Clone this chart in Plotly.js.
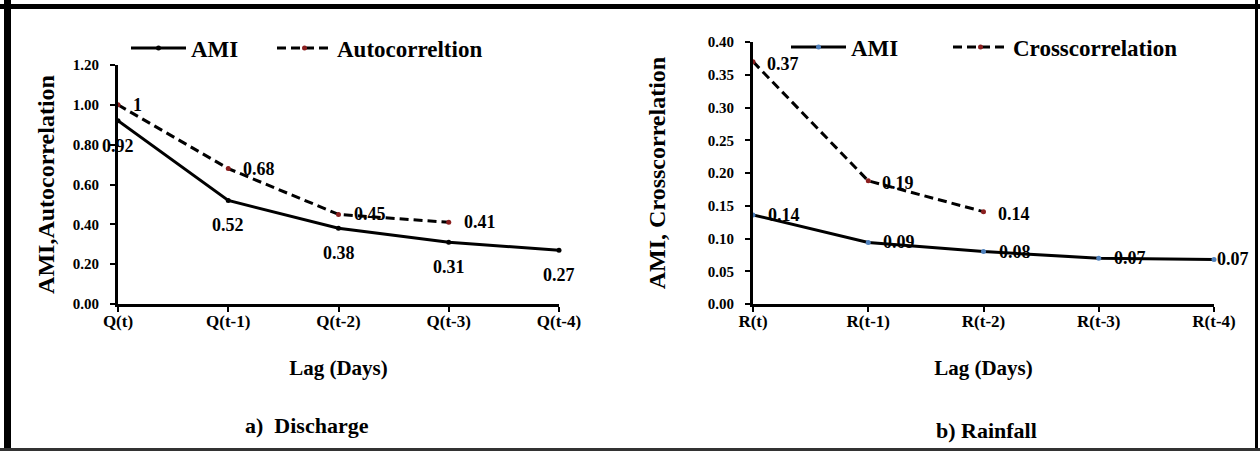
<!DOCTYPE html>
<html><head><meta charset="utf-8">
<script src="https://cdn.plot.ly/plotly-3.0.1.min.js"></script>
<style>html,body{margin:0;padding:0;background:#fff}#chart{width:1260px;height:451px}</style>
</head><body><div id="chart"></div>
<script>
// ---- data ----
const dischargeLags = ['Q(t)', 'Q(t-1)', 'Q(t-2)', 'Q(t-3)', 'Q(t-4)'];
const dischargeAMI = [0.92, 0.52, 0.38, 0.31, 0.27];
const dischargeAutocorrelation = [1, 0.68, 0.45, 0.41];
const rainfallLags = ['R(t)', 'R(t-1)', 'R(t-2)', 'R(t-3)', 'R(t-4)'];
const rainfallAMI = [0.136, 0.094, 0.08, 0.07, 0.068];
const rainfallCrosscorrelation = [0.37, 0.188, 0.141];
const seriesNames = {ami: 'AMI', auto: 'Autocorreltion', cross: 'Crosscorrelation'};
const axisTitles = {
  x: 'Lag (Days)',
  yLeft: 'AMI,Autocorrelation',
  yRight: 'AMI, Crosscorrelation'
};
const captions = ['a)\u00a0\u00a0Discharge', 'b)\u00a0Rainfall'];

// ---- helpers ----
const W = 1260, H = 451;
const px = v => v / W;
const py = v => 1 - v / H;
const FONT = 'Liberation Serif';
const fmt = v => Number.isInteger(v) ? String(v) : v.toFixed(2);
const DARKRED = '#8b1f1f';
const BLUE = '#4f81bd';

const traces = [
  {x: dischargeLags, y: dischargeAMI, name: seriesNames.ami, mode: 'lines+markers',
   line: {color: '#000', width: 3}, marker: {color: '#000', size: 5},
   xaxis: 'x', yaxis: 'y', legend: 'legend', cliponaxis: false, hoverinfo: 'skip'},
  {x: dischargeLags.slice(0, dischargeAutocorrelation.length), y: dischargeAutocorrelation,
   name: seriesNames.auto, mode: 'lines+markers',
   line: {color: '#000', width: 3, dash: '9px,5px'}, marker: {color: DARKRED, size: 5},
   xaxis: 'x', yaxis: 'y', legend: 'legend2', cliponaxis: false, hoverinfo: 'skip'},
  {x: rainfallLags, y: rainfallAMI, name: seriesNames.ami, mode: 'lines+markers',
   line: {color: '#000', width: 3}, marker: {color: BLUE, size: 5},
   xaxis: 'x2', yaxis: 'y2', legend: 'legend3', cliponaxis: false, hoverinfo: 'skip'},
  {x: rainfallLags.slice(0, rainfallCrosscorrelation.length), y: rainfallCrosscorrelation,
   name: seriesNames.cross, mode: 'lines+markers',
   line: {color: '#000', width: 3, dash: '9px,5px'}, marker: {color: DARKRED, size: 5},
   xaxis: 'x2', yaxis: 'y2', legend: 'legend4', cliponaxis: false, hoverinfo: 'skip'}
];

const leftX = [px(118), px(559)], rightX = [px(753), px(1214)];
const leftY = [py(304), py(65)], rightY = [py(304), py(42)];

function catAxis(domain, anchor, cats, title) {
  return {domain, anchor, type: 'category', categoryorder: 'array', categoryarray: cats,
    range: [0, cats.length - 1], showline: true, linecolor: '#000', linewidth: 3,
    ticks: 'outside', ticklen: 5, tickwidth: 2, tickcolor: '#000', showgrid: false, zeroline: false,
    ticklabelstandoff: -5,
    tickfont: {family: FONT, size: 17, weight: 'bold', color: '#000'},
    title: {text: title, font: {family: FONT, size: 21, weight: 'bold', color: '#000'}, standoff: 30},
    fixedrange: true};
}
function valAxis(domain, anchor, range, dtick, title, standoff) {
  return {domain, anchor, range, dtick, tick0: 0, tickformat: '.2f', showline: true,
    linecolor: '#000', linewidth: 3, ticks: 'outside', ticklen: 5, tickwidth: 2, tickcolor: '#000',
    showgrid: false, zeroline: false, ticklabelstandoff: 8,
    tickfont: {family: FONT, size: 15, weight: 'bold', color: '#000'},
    title: {text: title, font: {family: FONT, size: 24, weight: 'bold', color: '#000'}, standoff},
    fixedrange: true};
}
function innerTicks(overlaying, anchor, range, dtick, isY) {
  return {overlaying, anchor, range, dtick, tick0: 0, ticks: 'inside', ticklen: 5, tickwidth: 2,
    tickcolor: '#000', showticklabels: false, showline: false, showgrid: false, zeroline: false,
    fixedrange: true, side: isY ? 'left' : 'bottom'};
}

// data labels as annotations built from the arrays
const annotations = [];
function addLabels(cats, vals, xa, ya, opts) {
  vals.forEach((v, i) => {
    const last = i === vals.length - 1 && opts.tightLast;
    annotations.push(Object.assign({
      x: cats[i], y: v, xref: xa, yref: ya, text: fmt(v), showarrow: false,
      font: {family: FONT, size: 18, weight: 'bold', color: '#000'}
    }, opts.base, last ? {xshift: 1} : {}));
  });
}
addLabels(dischargeLags, dischargeAMI, 'x', 'y', {base: {xanchor: 'center', yanchor: 'middle', yshift: -25}});
addLabels(dischargeLags, dischargeAutocorrelation, 'x', 'y', {base: {xanchor: 'left', yanchor: 'middle', xshift: 13}});
addLabels(rainfallLags, rainfallAMI, 'x2', 'y2', {base: {xanchor: 'left', yanchor: 'middle', xshift: 13}, tightLast: true});
addLabels(rainfallLags, rainfallCrosscorrelation, 'x2', 'y2', {base: {xanchor: 'left', yanchor: 'middle', xshift: 12, yshift: -2}});

annotations.push({x: px(307), y: py(425), xref: 'paper', yref: 'paper', text: captions[0], showarrow: false,
  xanchor: 'center', yanchor: 'middle', font: {family: FONT, size: 22, weight: 'bold', color: '#000'}});
annotations.push({x: px(986), y: py(430), xref: 'paper', yref: 'paper', text: captions[1], showarrow: false,
  xanchor: 'center', yanchor: 'middle', font: {family: FONT, size: 22, weight: 'bold', color: '#000'}});

const legendBase = {orientation: 'h', xanchor: 'left', yanchor: 'middle', bgcolor: 'rgba(0,0,0,0)',
  font: {family: FONT, size: 23, weight: 'bold', color: '#000'}, itemwidth: 55};

const layout = {
  width: W, height: H, margin: {l: 0, r: 0, t: 0, b: 0},
  paper_bgcolor: '#fff', plot_bgcolor: 'rgba(0,0,0,0)',
  font: {family: FONT, color: '#000'},
  xaxis: catAxis(leftX, 'y', dischargeLags, axisTitles.x),
  yaxis: valAxis(leftY, 'x', [0, 1.2], 0.2, axisTitles.yLeft, 12),
  xaxis2: catAxis(rightX, 'y2', rainfallLags, axisTitles.x),
  yaxis2: valAxis(rightY, 'x2', [0, 0.4], 0.05, axisTitles.yRight, 36),
  xaxis3: innerTicks('x', 'y', [0, dischargeLags.length - 1], 1, false),
  yaxis3: innerTicks('y', 'x', [0, 1.2], 0.2, true),
  xaxis4: innerTicks('x2', 'y2', [0, rainfallLags.length - 1], 1, false),
  yaxis4: innerTicks('y2', 'x2', [0, 0.4], 0.05, true),
  legend: Object.assign({}, legendBase, {x: px(126), y: py(48)}),
  legend2: Object.assign({}, legendBase, {x: px(272), y: py(48)}),
  legend3: Object.assign({}, legendBase, {x: px(786), y: py(47)}),
  legend4: Object.assign({}, legendBase, {x: px(948), y: py(47)}),
  annotations,
  shapes: [
    {type: 'line', xref: 'paper', yref: 'paper', x0: 0, x1: 1, y0: py(6.5), y1: py(6.5), line: {color: '#000', width: 5}},
    {type: 'line', xref: 'paper', yref: 'paper', x0: px(7.5), x1: px(7.5), y0: 0, y1: 1, line: {color: '#000', width: 7}},
    {type: 'line', xref: 'paper', yref: 'paper', x0: px(1256.5), x1: px(1256.5), y0: 0, y1: 1, line: {color: '#000', width: 3}},
    {type: 'line', xref: 'paper', yref: 'paper', x0: 0, x1: 1, y0: py(449.5), y1: py(449.5), line: {color: '#333', width: 3}}
  ],
  showlegend: true
};

Plotly.newPlot('chart', traces, layout, {staticPlot: true, displayModeBar: false});
</script>
</body></html>
